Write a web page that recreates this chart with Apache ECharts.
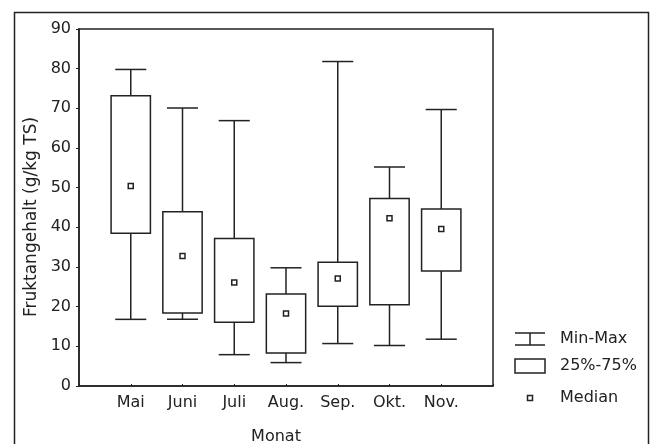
<!DOCTYPE html>
<html>
<head>
<meta charset="utf-8">
<script src="https://cdn.jsdelivr.net/npm/echarts@6/dist/echarts.min.js"></script>
<style>
  html, body { margin: 0; padding: 0; background: #fff; }
  #chart { width: 656px; height: 444px; }
</style>
</head>
<body>
<div id="chart"></div>
<script>
// Fruktangehalt je Monat (Min, 25%, Median, 75%, Max)
var categories = ['Mai', 'Juni', 'Juli', 'Aug.', 'Sep.', 'Okt.', 'Nov.'];
var minVals    = [16.8, 16.8,  7.9,  5.9, 10.7, 10.2, 11.8];
var q1Vals     = [38.5, 18.4, 16.1,  8.3, 20.1, 20.5, 29.0];
var medianVals = [50.4, 32.8, 26.1, 18.3, 27.1, 42.3, 39.6];
var q3Vals     = [73.2, 43.9, 37.2, 23.2, 31.2, 47.3, 44.6];
var maxVals    = [79.8, 70.1, 66.9, 29.8, 81.8, 55.2, 69.7];
var yTicks     = [0, 10, 20, 30, 40, 50, 60, 70, 80, 90];

var ink = '#222';
var font = 'DejaVu Sans';

var whiskerData = [], boxData = [], medianData = [];
for (var i = 0; i < categories.length; i++) {
  whiskerData.push([i + 1, minVals[i], maxVals[i]]);
  boxData.push([i + 1, q1Vals[i], q3Vals[i]]);
  medianData.push([i + 1, medianVals[i]]);
}

function renderWhisker(params, api) {
  var x = api.value(0);
  var lo = api.coord([x, api.value(1)]);
  var hi = api.coord([x, api.value(2)]);
  var half = api.size([1, 0])[0] * 0.3;
  var st = { stroke: ink, lineWidth: 1.5, fill: null };
  return {
    type: 'group',
    children: [
      { type: 'line', shape: { x1: lo[0], y1: lo[1], x2: hi[0], y2: hi[1] }, style: st },
      { type: 'line', shape: { x1: lo[0] - half, y1: lo[1], x2: lo[0] + half, y2: lo[1] }, style: st },
      { type: 'line', shape: { x1: hi[0] - half, y1: hi[1], x2: hi[0] + half, y2: hi[1] }, style: st }
    ]
  };
}

function renderBox(params, api) {
  var x = api.value(0);
  var lo = api.coord([x, api.value(1)]);
  var hi = api.coord([x, api.value(2)]);
  var w = api.size([1, 0])[0] * 0.76;
  return {
    type: 'rect',
    shape: { x: lo[0] - w / 2, y: hi[1], width: w, height: lo[1] - hi[1] },
    style: { fill: '#fff', stroke: ink, lineWidth: 1.5 }
  };
}

var chart = echarts.init(document.getElementById('chart'));
chart.setOption({
  animation: false,
  backgroundColor: '#fff',
  grid: { left: 79, top: 29, right: 163, bottom: 58, show: true, borderColor: ink, borderWidth: 1.5 },
  xAxis: {
    type: 'value', min: 0, max: 8, interval: 1,
    splitLine: { show: false },
    axisLine: { lineStyle: { color: ink, width: 1.5 } },
    axisTick: { inside: true, length: 2, lineStyle: { color: ink } },
    axisLabel: {
      color: ink, fontFamily: font, fontSize: 16, margin: 9,
      formatter: function (v) { return categories[v - 1] || ''; }
    }
  },
  yAxis: {
    type: 'value', min: yTicks[0], max: yTicks[yTicks.length - 1], interval: 10,
    splitLine: { show: false },
    axisLine: { show: true, lineStyle: { color: ink, width: 1.5 } },
    axisTick: { show: true, length: 3, lineStyle: { color: ink } },
    axisLabel: { color: ink, fontFamily: font, fontSize: 16, margin: 8 }
  },
  series: [
    { name: 'Min-Max', type: 'custom', renderItem: renderWhisker, data: whiskerData, encode: { x: 0, y: [1, 2] }, z: 2 },
    { name: '25%-75%', type: 'custom', renderItem: renderBox, data: boxData, encode: { x: 0, y: [1, 2] }, z: 3 },
    {
      name: 'Median', type: 'scatter', data: medianData, symbol: 'rect', symbolSize: 5, z: 4,
      itemStyle: { color: '#fff', borderColor: ink, borderWidth: 1.5, opacity: 1 }
    }
  ],
  graphic: [
    // outer frame
    { type: 'rect', shape: { x: 14.5, y: 12.5, width: 634, height: 445 }, style: { fill: null, stroke: ink, lineWidth: 1.5 }, silent: true },
    { type: 'text', x: 276, y: 437, style: { text: 'Monat', fill: ink, font: '16px "DejaVu Sans"', align: 'center', verticalAlign: 'middle' } },
    { type: 'text', x: 32, y: 217, rotation: Math.PI / 2, style: { text: 'Fruktangehalt (g/kg TS)', fill: ink, font: '17px "DejaVu Sans"', align: 'center', verticalAlign: 'middle' } },
    // legend
    { type: 'line', shape: { x1: 515, y1: 333, x2: 545, y2: 333 }, style: { stroke: ink, lineWidth: 1.5 } },
    { type: 'line', shape: { x1: 515, y1: 345, x2: 545, y2: 345 }, style: { stroke: ink, lineWidth: 1.5 } },
    { type: 'line', shape: { x1: 530, y1: 333, x2: 530, y2: 345 }, style: { stroke: ink, lineWidth: 1.5 } },
    { type: 'text', x: 560, y: 339, style: { text: 'Min-Max', fill: ink, font: '16px "DejaVu Sans"', verticalAlign: 'middle' } },
    { type: 'rect', shape: { x: 515, y: 359, width: 30, height: 14 }, style: { fill: '#fff', stroke: ink, lineWidth: 1.5 } },
    { type: 'text', x: 560, y: 366, style: { text: '25%-75%', fill: ink, font: '16px "DejaVu Sans"', verticalAlign: 'middle' } },
    { type: 'rect', shape: { x: 527.5, y: 395.5, width: 5, height: 5 }, style: { fill: '#fff', stroke: ink, lineWidth: 1.5 } },
    { type: 'text', x: 560, y: 398, style: { text: 'Median', fill: ink, font: '16px "DejaVu Sans"', verticalAlign: 'middle' } }
  ]
});
</script>
</body>
</html>
